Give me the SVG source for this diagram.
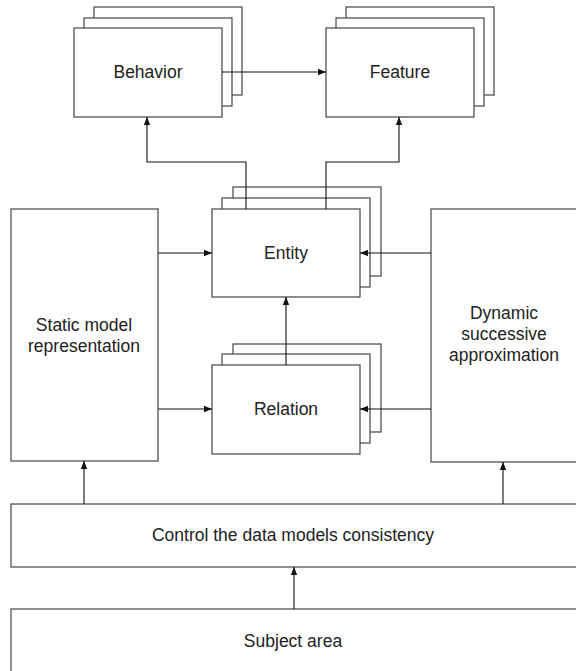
<svg xmlns="http://www.w3.org/2000/svg" width="576" height="671" viewBox="0 0 576 671">
<defs>
<style>
.box{fill:#fff;stroke:#444;stroke-width:1.2}
.lbl{font-family:"Liberation Sans",Arial,sans-serif;font-size:17.5px;fill:#222;text-anchor:middle}
.con{fill:none;stroke:#111;stroke-width:1.1}
</style>
<marker id="ah" viewBox="0 0 10 10" refX="10" refY="5" markerWidth="8" markerHeight="8" markerUnits="userSpaceOnUse" orient="auto">
<path d="M0,1 L10,5 L0,9 Z" fill="#111"/>
</marker>
</defs>
<rect width="576" height="671" fill="#fff"/>

<g id="behavior">
<rect class="box" x="94" y="7" width="148" height="88"/>
<rect class="box" x="84" y="18" width="148" height="88"/>
<rect class="box" x="74" y="28" width="148" height="89"/>
<text class="lbl" x="148" y="78">Behavior</text>
</g>

<g id="feature">
<rect class="box" x="346" y="7" width="148" height="88"/>
<rect class="box" x="336" y="18" width="148" height="88"/>
<rect class="box" x="326" y="28" width="148" height="89"/>
<text class="lbl" x="400" y="78">Feature</text>
</g>

<g id="entity">
<rect class="box" x="233" y="187" width="148" height="89"/>
<rect class="box" x="222" y="198" width="148" height="89"/>
<rect class="box" x="212" y="209" width="148" height="88"/>
<text class="lbl" x="286" y="259">Entity</text>
</g>

<g id="relation">
<rect class="box" x="233" y="344" width="148" height="88"/>
<rect class="box" x="222" y="354" width="148" height="89"/>
<rect class="box" x="212" y="365" width="148" height="89"/>
<text class="lbl" x="286" y="415">Relation</text>
</g>

<g id="static">
<rect class="box" x="11" y="209" width="147" height="252"/>
<text class="lbl" x="84" y="331">Static model</text>
<text class="lbl" x="84" y="352">representation</text>
</g>

<g id="dynamic">
<rect class="box" x="431" y="209" width="160" height="253"/>
<text class="lbl" x="504" y="319">Dynamic</text>
<text class="lbl" x="504" y="340">successive</text>
<text class="lbl" x="504" y="361">approximation</text>
</g>

<g id="control">
<rect class="box" x="11" y="504" width="580" height="63"/>
<text class="lbl" x="293" y="541">Control the data models consistency</text>
</g>

<g id="subject">
<rect class="box" x="11" y="609" width="580" height="80"/>
<text class="lbl" x="293" y="647">Subject area</text>
</g>

<g id="connectors">
<path class="con" d="M222,72 H326" marker-end="url(#ah)"/>
<path class="con" d="M246,209 V162 H147 V117" marker-end="url(#ah)"/>
<path class="con" d="M326,209 V162 H399 V117" marker-end="url(#ah)"/>
<path class="con" d="M158,253 H212" marker-end="url(#ah)"/>
<path class="con" d="M431,253 H360" marker-end="url(#ah)"/>
<path class="con" d="M158,409 H212" marker-end="url(#ah)"/>
<path class="con" d="M431,409 H360" marker-end="url(#ah)"/>
<path class="con" d="M286,365 V297" marker-end="url(#ah)"/>
<path class="con" d="M84,504 V461" marker-end="url(#ah)"/>
<path class="con" d="M503,504 V462" marker-end="url(#ah)"/>
<path class="con" d="M294,609 V567" marker-end="url(#ah)"/>
</g>
</svg>
